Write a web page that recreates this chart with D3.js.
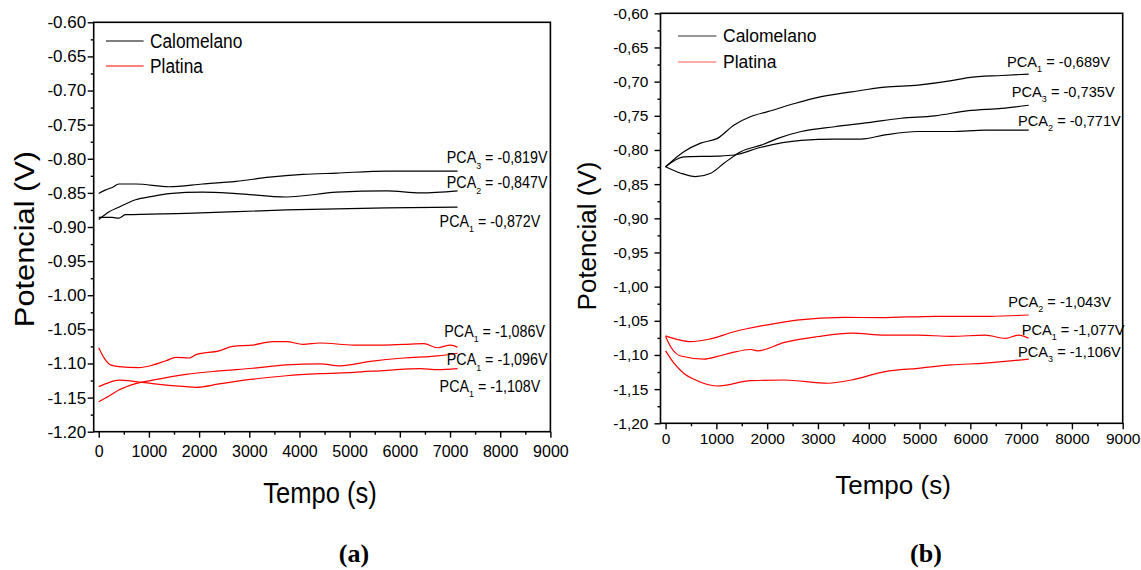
<!DOCTYPE html>
<html>
<head>
<meta charset="utf-8">
<script src="https://cdn.jsdelivr.net/npm/d3@7"></script>
<style>
  body { margin: 0; background: #fff; }
  text { font-family: "Liberation Sans", Arial, sans-serif; fill: #000; }
  .panel-tag { font-family: "Liberation Serif", "Times New Roman", serif; font-weight: bold; }
</style>
</head>
<body>
<script>
// ---- DATA: [tempo (s), potencial (V)] ----
// panel (a)
const calA3 = [[0,-0.851],[130,-0.846],[270,-0.842],[400,-0.837],[740,-0.837],[1400,-0.841],[2070,-0.837],[2740,-0.833],[3400,-0.827],[4070,-0.823],[4740,-0.821],[5740,-0.818],[7150,-0.818]];
const calA2 = [[0,-0.889],[200,-0.878],[400,-0.871],[735,-0.860],[1070,-0.855],[1400,-0.851],[2070,-0.849],[2740,-0.851],[3740,-0.856],[4740,-0.849],[5740,-0.847],[6410,-0.850],[7150,-0.847]];
const calA1 = [[0,-0.886],[270,-0.886],[400,-0.887],[530,-0.882],[1740,-0.880],[3740,-0.875],[5740,-0.872],[7150,-0.871]];
const platA1 = [[0,-1.077],[100,-1.091],[235,-1.102],[400,-1.1045],[800,-1.106],[1070,-1.1025],[1340,-1.096],[1540,-1.091],[1800,-1.092],[1940,-1.087],[2400,-1.0815],[2670,-1.075],[3070,-1.073],[3470,-1.068],[3740,-1.068],[4070,-1.072],[4410,-1.070],[5080,-1.073],[5610,-1.073],[6080,-1.072],[6480,-1.071],[6750,-1.077],[7010,-1.073],[7150,-1.076]];
const platA2 = [[0,-1.156],[200,-1.148],[400,-1.139],[735,-1.1295],[1070,-1.1245],[1740,-1.116],[2400,-1.111],[3070,-1.107],[3740,-1.102],[4410,-1.1005],[4810,-1.1035],[5410,-1.097],[6080,-1.092],[6750,-1.089],[7150,-1.085]];
const platA3 = [[0,-1.134],[200,-1.128],[400,-1.1245],[735,-1.1265],[1070,-1.1295],[1740,-1.134],[1940,-1.135],[2400,-1.130],[3070,-1.123],[3740,-1.118],[4410,-1.115],[5080,-1.113],[5740,-1.110],[6410,-1.1075],[6750,-1.109],[7150,-1.1075]];

// panel (b)
const calB1 = [[0,-0.8245],[360,-0.8025],[690,-0.790],[1020,-0.783],[1350,-0.7634],[1680,-0.751],[2010,-0.744],[2540,-0.732],[3000,-0.723],[3660,-0.715],[4320,-0.708],[4970,-0.705],[5630,-0.6986],[5960,-0.694],[6620,-0.691],[7150,-0.689]];
const calB3 = [[0,-0.8245],[300,-0.834],[590,-0.839],[890,-0.834],[1150,-0.8195],[1480,-0.8025],[1880,-0.793],[2210,-0.783],[2670,-0.773],[3330,-0.766],[3990,-0.760],[4640,-0.7536],[5300,-0.750],[5960,-0.7425],[6620,-0.739],[7150,-0.7346]];
const calB2 = [[0,-0.8245],[360,-0.810],[1020,-0.809],[1350,-0.8074],[1880,-0.796],[2670,-0.786],[3330,-0.784],[3850,-0.784],[4320,-0.778],[4970,-0.773],[5630,-0.773],[6290,-0.771],[7150,-0.771]];
const platB2 = [[0,-1.072],[270,-1.078],[490,-1.0805],[850,-1.077],[1350,-1.066],[2000,-1.056],[2580,-1.049],[3510,-1.045],[4230,-1.0454],[5310,-1.0434],[6390,-1.0434],[7150,-1.0415]];
const platB1 = [[0,-1.073],[100,-1.088],[300,-1.1015],[760,-1.106],[1020,-1.102],[1290,-1.097],[1680,-1.092],[1810,-1.094],[2340,-1.0815],[3000,-1.073],[3660,-1.068],[4320,-1.071],[4970,-1.071],[5630,-1.0727],[6290,-1.071],[6690,-1.0756],[6950,-1.071],[7150,-1.0756]];
const platB3 = [[0,-1.094],[165,-1.112],[360,-1.127],[560,-1.1356],[1020,-1.1454],[1680,-1.1376],[2340,-1.1366],[3200,-1.1414],[3660,-1.1366],[4320,-1.1244],[4970,-1.1195],[5630,-1.1146],[6290,-1.112],[7150,-1.106]];

// tick values
const timeTicks = d3.range(0, 9001, 1000);
const timeMinor = d3.range(500, 9000, 1000);
const potTicks = d3.range(0, 13).map(i => Math.round((-1.2 + i * 0.05) * 100) / 100);
const potMinor = d3.range(0, 12).map(i => -1.175 + i * 0.05);

// labels: [PCA subscript, value text, anchor time, anchor potential]
const labelsA = [["3","-0,819V",8942,-0.8067],["2","-0,847V",8942,-0.8434],["1","-0,872V",8798,-0.8997],
                 ["1","-1,086V",8892,-1.061],["1","-1,096V",8942,-1.1025],["1","-1,108V",8798,-1.1416]];
const labelsB = [["1","-0,689V",8748,-0.6781],["3","-0,735V",8841,-0.7229],["2","-0,771V",8963,-0.7649],
                 ["2","-1,043V",8770,-1.0294],["1","-1,077V",9036,-1.0708],["3","-1,106V",8963,-1.1026]];
const legendNames = ["Calomelano", "Platina"];

// ---- LAYOUT ----
const svg = d3.select("body").append("svg")
  .attr("width", 1141)
  .attr("height", 570);

const panels = [
  {
    xr: [93.7, 550.4], yr: [431.7, 22.3], sep: ".",
    black: [calA3, calA2, calA1], red: [platA1, platA2, platA3], labels: labelsA,
    tickFont: 17, xTickFont: 16, yPad: 1.5, xPad: 8, sy: 1.12,
    legend: { x1: 106, x2: 143.6, tx: 150, ys: [41, 66], font: 17.3, colors: ["#000", "#f00"] },
    labelFont: 14.3,
    ytitle: { x: 23.5, y: 239, font: 28, stretch: 1.1 },
    xtitle: { x: 320, y: 502.5, font: 25.6 },
    tag: { x: 354, y: 562, text: "(a)" }
  },
  {
    xr: [660.5, 1122.7], yr: [423.3, 13.3], sep: ",",
    black: [calB1, calB3, calB2], red: [platB2, platB1, platB3], labels: labelsB,
    tickFont: 15.5, xTickFont: 15.5, yPad: 6, xPad: 4, sy: 1,
    legend: { x1: 678, x2: 716.4, tx: 723, ys: [36, 62], font: 17.5, colors: ["#333", "#ff5a5a"] },
    labelFont: 14.6,
    ytitle: { x: 586.5, y: 236, font: 26, stretch: 1.0 },
    xtitle: { x: 893, y: 494, font: 26 },
    tag: { x: 926, y: 562, text: "(b)" }
  }
];

panels.forEach(p => {
  const x = d3.scaleLinear().domain([-100, 9000]).range(p.xr);
  const y = d3.scaleLinear().domain([-1.2, -0.6]).range(p.yr);
  const g = svg.append("g");
  const fmt = d => d.toFixed(2).replace(".", p.sep);

  // frame
  g.append("rect")
    .attr("x", p.xr[0]).attr("y", p.yr[1])
    .attr("width", p.xr[1] - p.xr[0]).attr("height", p.yr[0] - p.yr[1])
    .attr("fill", "none").attr("stroke", "#000").attr("stroke-width", 1.6);

  // axes (major + minor)
  const xAx = g.append("g").attr("transform", `translate(0,${p.yr[0]})`)
    .call(d3.axisBottom(x).tickValues(timeTicks).tickSize(6).tickPadding(p.xPad).tickFormat(d3.format("d")));
  g.append("g").attr("transform", `translate(0,${p.yr[0]})`)
    .call(d3.axisBottom(x).tickValues(timeMinor).tickSize(3).tickFormat(""));
  const yAx = g.append("g").attr("transform", `translate(${p.xr[0]},0)`)
    .call(d3.axisLeft(y).tickValues(potTicks).tickSize(6).tickPadding(p.yPad).tickFormat(fmt));
  g.append("g").attr("transform", `translate(${p.xr[0]},0)`)
    .call(d3.axisLeft(y).tickValues(potMinor).tickSize(3).tickFormat(""));

  g.selectAll(".domain").remove();
  g.selectAll(".tick line").attr("stroke", "#000").attr("stroke-width", 1.4);
  xAx.selectAll("text").attr("font-size", p.xTickFont).attr("font-family", null);
  yAx.selectAll("text").attr("font-size", p.tickFont).attr("font-family", null);

  // curves
  const line = d3.line()
    .x(d => x(d[0]))
    .y(d => y(d[1]))
    .curve(d3.curveMonotoneX);
  p.black.forEach(s => g.append("path").attr("d", line(s))
    .attr("fill", "none").attr("stroke", "#000").attr("stroke-width", 1.2));
  p.red.forEach(s => g.append("path").attr("d", line(s))
    .attr("fill", "none").attr("stroke", "#f00").attr("stroke-width", 1.2));

  // legend
  legendNames.forEach((name, i) => {
    const ly = p.legend.ys[i];
    g.append("line")
      .attr("x1", p.legend.x1).attr("x2", p.legend.x2)
      .attr("y1", ly).attr("y2", ly)
      .attr("stroke", p.legend.colors[i]).attr("stroke-width", 1.1);
    g.append("text")
      .attr("transform", `translate(${p.legend.tx},${ly}) scale(1,${p.sy})`)
      .attr("dy", "0.36em")
      .attr("font-size", p.legend.font)
      .text(name);
  });

  // PCA labels
  p.labels.forEach(([sub, val, lt, lv]) => {
    const t = g.append("text")
      .attr("transform", `translate(${x(lt)},${y(lv)}) scale(1,${p.sy})`)
      .attr("text-anchor", "end")
      .attr("font-size", p.labelFont);
    t.append("tspan").text("PCA");
    t.append("tspan").attr("font-size", p.labelFont * 0.62).attr("dy", 5).text(sub);
    t.append("tspan").attr("dy", -5).text(" = " + val);
  });

  // axis titles
  g.append("text")
    .attr("transform", `translate(${p.ytitle.x},${p.ytitle.y}) rotate(-90) scale(${p.ytitle.stretch},1)`)
    .attr("text-anchor", "middle")
    .attr("dy", "0.36em")
    .attr("font-size", p.ytitle.font)
    .text("Potencial (V)");

  g.append("text")
    .attr("transform", `translate(${p.xtitle.x},${p.xtitle.y}) scale(1,${p.sy})`)
    .attr("text-anchor", "middle")
    .attr("font-size", p.xtitle.font)
    .text("Tempo (s)");

  g.append("text")
    .attr("class", "panel-tag")
    .attr("x", p.tag.x).attr("y", p.tag.y)
    .attr("text-anchor", "middle")
    .attr("font-size", 26)
    .text(p.tag.text);
});
</script>
</body>
</html>
